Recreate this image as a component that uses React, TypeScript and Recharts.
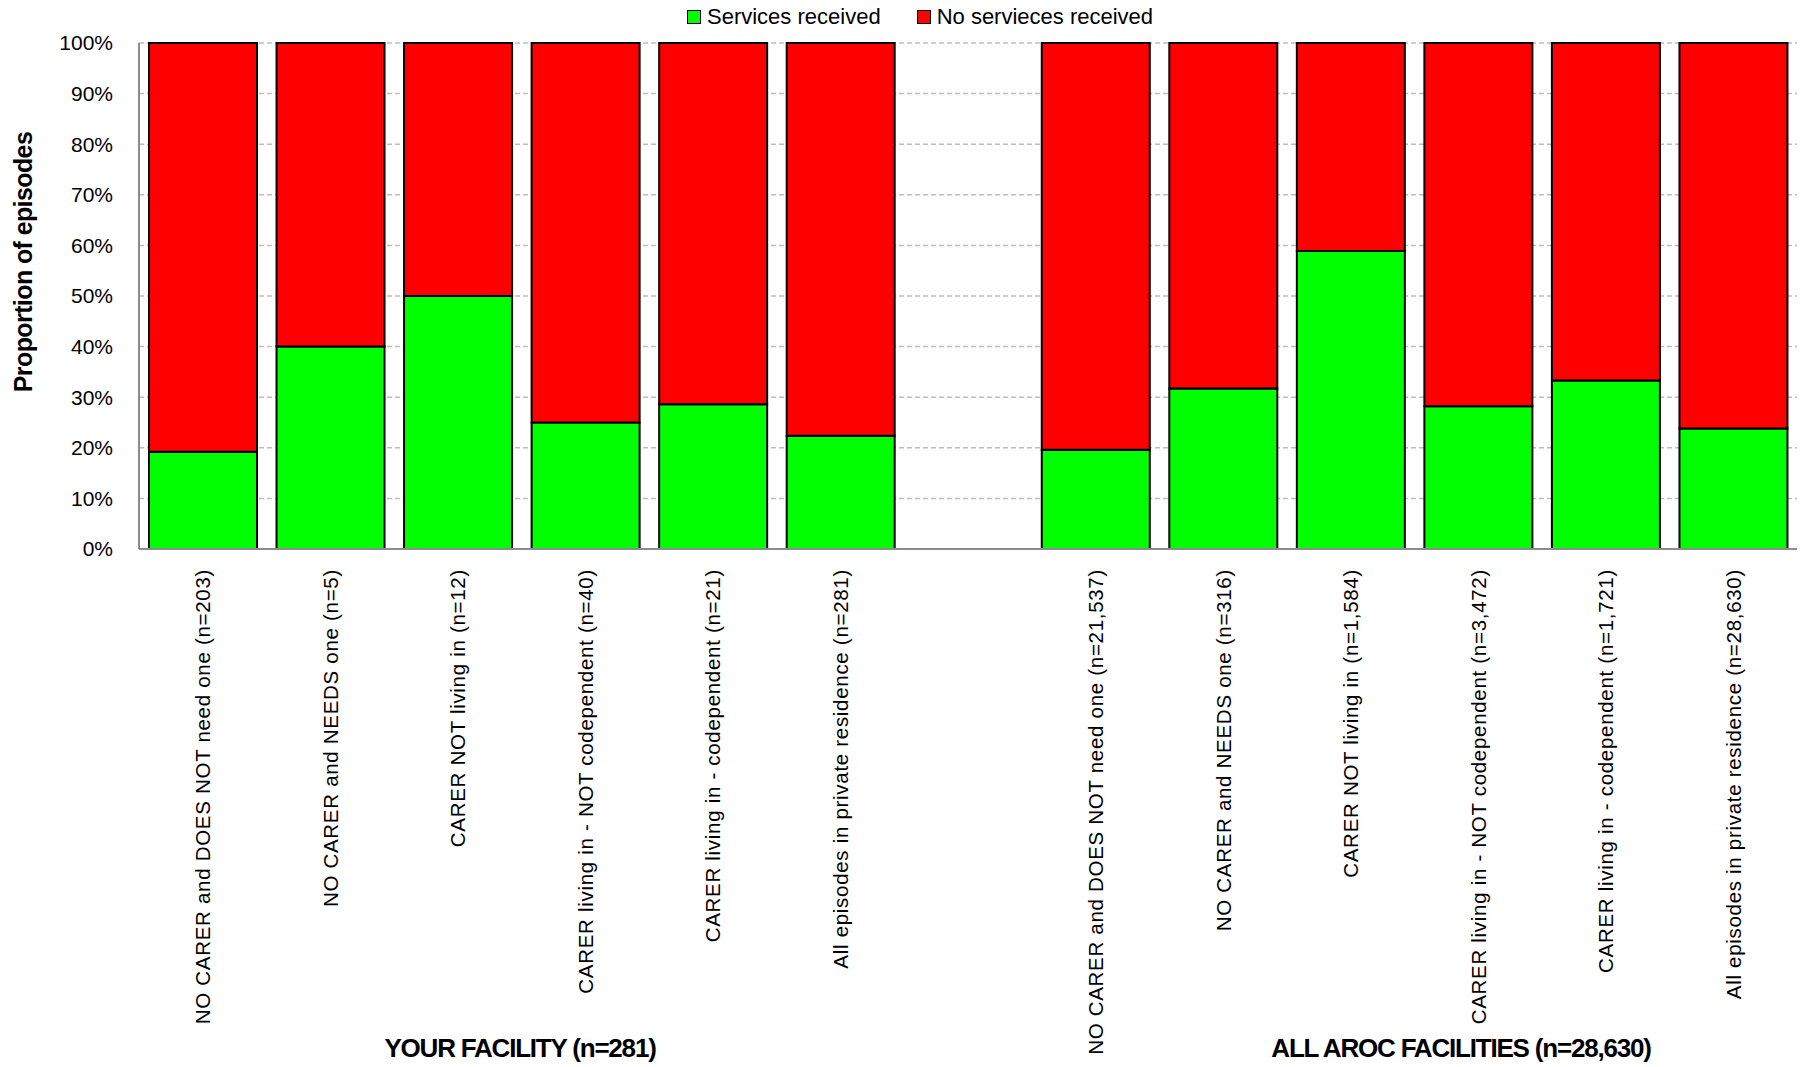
import React from 'react';
import { BarChart, Bar, XAxis, YAxis, CartesianGrid } from 'recharts';

const categories = [
  'NO CARER and DOES NOT need one (n=203)',
  'NO CARER and NEEDS one (n=5)',
  'CARER NOT living in  (n=12)',
  'CARER living in - NOT codependent (n=40)',
  'CARER living in - codependent (n=21)',
  'All episodes in private residence (n=281)',
  '',
  'NO CARER and DOES NOT need one (n=21,537)',
  'NO CARER and NEEDS one (n=316)',
  'CARER NOT living in  (n=1,584)',
  'CARER living in - NOT codependent (n=3,472)',
  'CARER living in - codependent (n=1,721)',
  'All episodes in private residence (n=28,630)',
];

const servicesReceived = [19.2, 40, 50, 25, 28.6, 22.4, null, 19.6, 31.7, 58.9, 28.2, 33.3, 23.8];
const noServicesReceived = [80.8, 60, 50, 75, 71.4, 77.6, null, 80.4, 68.3, 41.1, 71.8, 66.7, 76.2];

const yTicks = [0, 10, 20, 30, 40, 50, 60, 70, 80, 90, 100];

const groupLabels = ['YOUR FACILITY (n=281)', 'ALL AROC FACILITIES (n=28,630)'];

const FONT = '"Liberation Sans", Arial, sans-serif';

const chartData = categories.map((name, i) => ({
  name,
  services: servicesReceived[i],
  noServices: noServicesReceived[i],
}));

const CategoryTick = (props: any) => {
  const { x, y, payload } = props;
  if (!payload.value) return null;
  const ty = y + 18;
  return (
    <text
      x={x}
      y={ty}
      transform={`rotate(-90, ${x}, ${ty})`}
      textAnchor="end"
      dominantBaseline="central"
      fontSize={20.5}
      fontFamily={FONT}
      letterSpacing={0.7}
      fill="#000"
    >
      {payload.value}
    </text>
  );
};

export default function App() {
  return (
    <div style={{ position: 'absolute', left: 0, top: 0, width: 1806, height: 1067, background: '#fff', fontFamily: FONT }}>
      <BarChart
        width={1806}
        height={1067}
        data={chartData}
        margin={{ top: 43, right: 9, left: 0, bottom: 0 }}
        barCategoryGap={10}
      >
        <CartesianGrid vertical={false} stroke="#bdbdbd" strokeWidth={1.5} strokeDasharray="5 3" />
        <XAxis
          dataKey="name"
          interval={0}
          height={518}
          tickLine={false}
          tickSize={0}
          tick={<CategoryTick />}
          axisLine={{ stroke: '#8c8c8c', strokeWidth: 2 }}
        />
        <YAxis
          width={139}
          domain={[0, 100]}
          ticks={yTicks}
          tickFormatter={(v: number) => `${v}%`}
          tickLine={false}
          tickSize={0}
          tickMargin={26}
          tick={{ fill: '#000', fontSize: 21, fontFamily: FONT }}
          axisLine={{ stroke: '#8c8c8c', strokeWidth: 2 }}
        />
        <Bar dataKey="services" name="Services received" stackId="a" fill="#00ff00" stroke="#000" strokeWidth={2} isAnimationActive={false} />
        <Bar dataKey="noServices" name="No servieces received" stackId="a" fill="#ff0000" stroke="#000" strokeWidth={2} isAnimationActive={false} />
      </BarChart>

      {/* legend */}
      <div
        style={{
          position: 'absolute',
          left: 687,
          top: 4,
          display: 'flex',
          alignItems: 'center',
          fontSize: 22,
          color: '#000',
        }}
      >
        <span style={{ width: 12, height: 12, background: '#00ff00', border: '1.5px solid #000', marginRight: 6 }} />
        <span style={{ marginRight: 36 }}>Services received</span>
        <span style={{ width: 12, height: 12, background: '#ff0000', border: '1.5px solid #000', marginRight: 6 }} />
        <span>No servieces received</span>
      </div>

      <div
        style={{
          position: 'absolute',
          left: 23,
          top: 262,
          transform: 'translate(-50%, -50%) rotate(-90deg)',
          whiteSpace: 'nowrap',
          fontSize: 25,
          fontWeight: 'bold',
          letterSpacing: -0.6,
        }}
      >
        Proportion of episodes
      </div>

      <div
        style={{
          position: 'absolute',
          left: 520,
          top: 1048,
          transform: 'translate(-50%, -50%)',
          whiteSpace: 'nowrap',
          fontSize: 26,
          fontWeight: 'bold',
          letterSpacing: -1.2,
        }}
      >
        {groupLabels[0]}
      </div>
      <div
        style={{
          position: 'absolute',
          left: 1461,
          top: 1048,
          transform: 'translate(-50%, -50%)',
          whiteSpace: 'nowrap',
          fontSize: 26,
          fontWeight: 'bold',
          letterSpacing: -1.2,
        }}
      >
        {groupLabels[1]}
      </div>
    </div>
  );
}
